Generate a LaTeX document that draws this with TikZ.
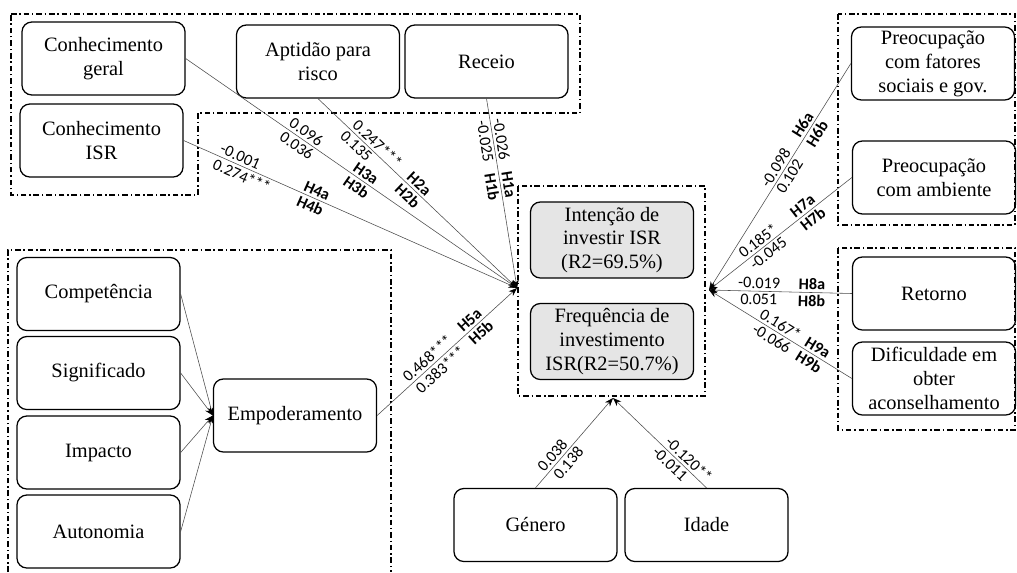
\documentclass[tikz,border=0pt]{standalone}
\usepackage{fontspec}
\setmainfont{Liberation Serif}
\newfontfamily\lblfont{Carlito}
\usetikzlibrary{arrows.meta}

\begin{document}
\begin{tikzpicture}[x=0.025cm,y=-0.025cm,
  varbox/.style={draw,rounded corners=7pt,line width=0.9pt,minimum width=4.075cm,minimum height=1.825cm,align=center,inner sep=1pt,font=\rmfamily\fontsize{14.5}{17}\selectfont},
  depbox/.style={varbox,fill=black!10,minimum height=1.9cm},
  grp/.style={line width=0.8pt,dash pattern=on 4pt off 2pt on 1pt off 2pt},
  link/.style={draw=black!70,line width=0.4pt,-{Stealth[length=6pt,width=4.5pt,black]}},
  coef/.style={sloped,inner sep=1.8pt,font=\lblfont\fontsize{11.5}{13}\selectfont},
  hyp/.style={coef,font=\lblfont\bfseries\fontsize{11.5}{13}\selectfont}]
\useasboundingbox (0,0) rectangle (1017,572);

\draw[grp] (11,14) -- (580,14) -- (580,113) -- (198,113) -- (198,195) -- (11,195) -- cycle;
\draw[grp] (518,186) rectangle (705,396);
\draw[grp] (838,14) rectangle (1015,225);
\draw[grp] (838,248) rectangle (1015,430);
\draw[grp] (8,572) -- (8,250) -- (391,250) -- (391,572);

\node[varbox] (cg) at (103.5,58.5) {Conhecimento\\geral};
\node[varbox] (ap) at (318,61.5) {Aptidão para\\risco};
\node[varbox] (rc) at (486.5,61.5) {Receio};
\node[varbox] (ci) at (101.5,140.5) {Conhecimento\\ISR};
\node[depbox] (int) at (612,240) {Intenção de\\investir ISR\\(R2=69.5\%)};
\node[depbox] (frq) at (612,341.5) {Frequência de\\investimento\\ISR(R2=50.7\%)};
\node[varbox] (pf) at (933,63.5) {Preocupação\\com fatores\\sociais e gov.};
\node[varbox] (pa) at (934,177.5) {Preocupação\\com ambiente};
\node[varbox] (rt) at (934,293.5) {Retorno};
\node[varbox] (df) at (934,378.5) {Dificuldade em\\obter\\aconselhamento};
\node[varbox] (em) at (295,415.5) {Empoderamento};
\node[varbox] (ge) at (535.5,525) {Género};
\node[varbox] (id) at (706.5,525) {Idade};

\coordinate (inL) at (517,288);
\coordinate (inR) at (709,290);
\coordinate (inB) at (613,398);

\foreach \nm/\txt/\yy in {cp/Competência/294,sg/Significado/373,im/Impacto/452.5,au/Autonomia/531.5} {
  \node[varbox] (\nm) at (98.5,\yy) {\txt};
  \draw[link] (\nm.east) -- (em.west);
}

\draw[link] (cg.east) -- node[coef,above,pos=.35]{0.096} node[coef,below,pos=.35]{0.036} node[hyp,above,pos=.53]{H3a} node[hyp,below,pos=.53]{H3b} (inL);
\draw[link] (ap.south) -- node[coef,above,pos=.27]{0.247***} node[coef,below,pos=.22]{0.135} node[hyp,above,pos=.48]{H2a} node[hyp,below,pos=.48]{H2b} (inL);
\draw[link] (rc.south) -- node[coef,above,pos=.22]{-0.026} node[coef,below,pos=.22]{-0.025} node[hyp,above,pos=.46]{H1a} node[hyp,below,pos=.46]{H1b} (inL);
\draw[link] (ci.east) -- node[coef,above,pos=.16]{-0.001} node[coef,below,pos=.185]{0.274***} node[hyp,above,pos=.39]{H4a} node[hyp,below,pos=.39]{H4b} (inL);
\draw[link] (em.east) -- node[coef,above,pos=.40]{0.468***} node[coef,below,pos=.41]{0.383***} node[hyp,above,pos=.70]{H5a} node[hyp,below,pos=.70]{H5b} (inL);

\draw[link] (pf.west) -- node[coef,above,pos=.48]{-0.098} node[coef,below,pos=.48]{0.102} node[hyp,above,pos=.29]{H6a} node[hyp,below,pos=.29]{H6b} (inR);
\draw[link] (pa.west) -- node[coef,above,pos=.62]{0.185*} node[coef,below,pos=.62]{-0.045} node[hyp,above,pos=.31]{H7a} node[hyp,below,pos=.31]{H7b} (inR);
\draw[link] (rt.west) -- node[coef,above,pos=.65]{-0.019} node[coef,below,pos=.65]{0.051} node[hyp,above,pos=.28]{H8a} node[hyp,below,pos=.28]{H8b} (inR);
\draw[link] (df.west) -- node[coef,above,pos=.53]{0.167*} node[coef,below,pos=.53]{-0.066} node[hyp,above,pos=.27]{H9a} node[hyp,below,pos=.27]{H9b} (inR);

\draw[link] (ge.north) -- node[coef,above,pos=.30]{0.038} node[coef,below,pos=.34]{0.138} (inB);
\draw[link] (id.north) -- node[coef,above,pos=.25]{-0.120**} node[coef,below,pos=.33]{-0.011} (inB);
\end{tikzpicture}
\end{document}
